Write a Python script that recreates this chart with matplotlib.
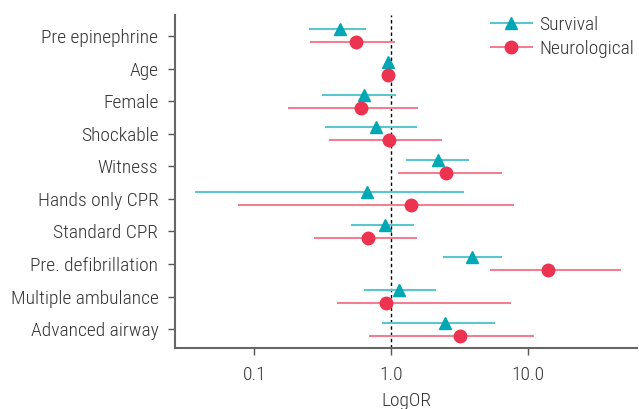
import matplotlib
matplotlib.use("Agg")
import matplotlib.pyplot as plt
import numpy as np

plt.rcParams['font.family'] = ['Roboto Condensed', 'Roboto', 'DejaVu Sans']
plt.rcParams['font.weight'] = 300

# variables, top to bottom
labels = ['Pre epinephrine', 'Age', 'Female', 'Shockable', 'Witness',
          'Hands only CPR', 'Standard CPR', 'Pre. defibrillation',
          'Multiple ambulance', 'Advanced airway']

# odds ratios with 95% CI
surv_or = [0.42, 0.95, 0.63, 0.77, 2.21, 0.67, 0.90, 3.91, 1.14, 2.46]
surv_lo = [0.25, 0.93, 0.31, 0.33, 1.29, 0.037, 0.51, 2.40, 0.63, 0.86]
surv_hi = [0.66, 0.97, 1.09, 1.56, 3.72, 3.42, 1.47, 6.46, 2.12, 5.77]

neuro_or = [0.55, 0.95, 0.60, 0.97, 2.51, 1.40, 0.68, 14.0, 0.92, 3.20]
neuro_lo = [0.255, 0.93, 0.175, 0.35, 1.13, 0.076, 0.274, 5.31, 0.405, 0.69]
neuro_hi = [1.06, 0.97, 1.57, 2.36, 6.46, 7.89, 1.56, 47.9, 7.51, 11.04]

teal = '#00A7B4'
teal_l = '#5CC6CF'
red = '#EC3350'
red_l = '#F27F91'
txt = '#333333'

fig = plt.figure(figsize=(6.39, 4.09), dpi=100)
ax = fig.add_axes([0.274, 0.150, 0.723, 0.813])

y = np.arange(len(labels))
off = 0.2

ax.hlines(y - off, surv_lo, surv_hi, color=teal_l, lw=1.5, zorder=2)
ax.plot(surv_or, y - off, ls='none', marker='^', ms=9, color=teal, zorder=3)
ax.hlines(y + off, neuro_lo, neuro_hi, color=red_l, lw=1.5, zorder=2)
ax.plot(neuro_or, y + off, ls='none', marker='o', ms=9, color=red, zorder=3)

ax.axvline(1.0, color='black', ls=(0, (2.5, 2)), lw=1, zorder=1)

ax.set_xscale('log')
ax.set_xlim(0.0263, 63)
ax.set_ylim(9.57, -0.64)
ax.set_xticks([0.1, 1.0, 10.0])
ax.set_xticklabels(['0.1', '1.0', '10.0'])
ax.minorticks_off()
ax.set_yticks(y)
ax.set_yticklabels(labels)
ax.tick_params(labelsize=14, colors='#555555', labelcolor=txt, length=5, width=1)
ax.tick_params(axis='x', pad=8)
ax.tick_params(axis='y', pad=7)
ax.set_xlabel('LogOR', fontsize=14, color=txt, labelpad=6, fontweight=300)

for s in ['top', 'right']:
    ax.spines[s].set_visible(False)
for s in ['left', 'bottom']:
    ax.spines[s].set_color('#666666')
    ax.spines[s].set_linewidth(1.5)

h1 = plt.Line2D([], [], color=teal_l, lw=1.5, marker='^', ms=9, mfc=teal, mec=teal)
h2 = plt.Line2D([], [], color=red_l, lw=1.5, marker='o', ms=9, mfc=red, mec=red)
leg = ax.legend([h1, h2], ['Survival', 'Neurological'], loc='upper left',
                bbox_to_anchor=(0.666, 1.02), frameon=False,
                prop={'size': 14, 'weight': 300},
                handlelength=2.15, handletextpad=0.36, labelspacing=0.3,
                borderaxespad=0)
for t in leg.get_texts():
    t.set_color(txt)

fig.savefig('out.png', dpi=100)
